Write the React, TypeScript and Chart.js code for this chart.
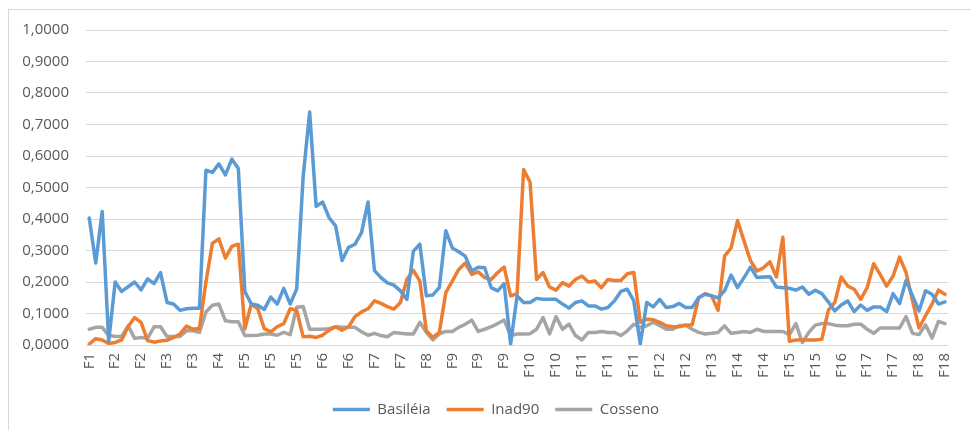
import React, { useEffect, useRef } from "react";
import { Chart, registerables } from "chart.js";

Chart.register(...registerables);

const firms = ["F1","F2","F3","F4","F5","F6","F7","F8","F9","F10","F11","F12","F13","F14","F15","F16","F17","F18"];
const firmCounts = [4,8,6,6,11,8,8,4,12,8,12,8,4,8,8,4,8,6];
const labelEvery = 4;
const yTicks = [0,0.1,0.2,0.3,0.4,0.5,0.6,0.7,0.8,0.9,1.0];

const basileia = [
  0.403,0.26,0.424,0.012,0.2,0.17,0.185,0.2,0.175,0.21,
  0.195,0.23,0.135,0.13,0.11,0.115,0.117,0.117,0.555,0.548,
  0.575,0.54,0.59,0.56,0.17,0.13,0.126,0.113,0.152,0.13,
  0.18,0.13,0.178,0.535,0.74,0.44,0.454,0.404,0.378,0.268,
  0.31,0.32,0.357,0.454,0.236,0.214,0.197,0.19,0.172,0.145,
  0.298,0.32,0.156,0.159,0.182,0.363,0.308,0.296,0.282,0.235,
  0.247,0.245,0.182,0.172,0.195,0.003,0.156,0.135,0.135,0.148,
  0.145,0.145,0.145,0.13,0.117,0.135,0.14,0.124,0.124,0.114,
  0.119,0.14,0.17,0.177,0.14,0.003,0.135,0.121,0.145,0.119,
  0.122,0.132,0.119,0.119,0.15,0.161,0.156,0.15,0.172,0.222,
  0.182,0.214,0.247,0.214,0.216,0.217,0.184,0.182,0.18,0.174,
  0.184,0.161,0.174,0.163,0.137,0.108,0.127,0.14,0.106,0.127,
  0.11,0.121,0.121,0.106,0.163,0.132,0.205,0.156,0.108,0.172,
  0.161,0.13,0.137
];

const inad90 = [
  0.003,0.02,0.016,0.005,0.008,0.016,0.058,0.087,0.072,0.014,
  0.009,0.013,0.015,0.024,0.035,0.06,0.05,0.053,0.2,0.323,
  0.337,0.276,0.313,0.32,0.051,0.13,0.115,0.052,0.042,0.058,
  0.068,0.115,0.11,0.026,0.028,0.024,0.031,0.047,0.058,0.047,
  0.058,0.09,0.105,0.115,0.14,0.132,0.122,0.114,0.135,0.208,
  0.237,0.203,0.045,0.024,0.04,0.166,0.203,0.24,0.26,0.224,
  0.232,0.214,0.208,0.23,0.247,0.156,0.163,0.557,0.517,0.208,
  0.23,0.184,0.174,0.198,0.187,0.208,0.219,0.2,0.203,0.182,
  0.208,0.205,0.205,0.226,0.23,0.072,0.082,0.08,0.072,0.061,
  0.058,0.058,0.063,0.064,0.15,0.163,0.156,0.11,0.282,0.308,
  0.395,0.33,0.268,0.235,0.245,0.264,0.216,0.342,0.012,0.016,
  0.016,0.016,0.016,0.018,0.11,0.135,0.216,0.187,0.177,0.145,
  0.182,0.258,0.224,0.187,0.219,0.279,0.23,0.14,0.054,0.093,
  0.13,0.174,0.161
];

const cosseno = [
  0.05,0.056,0.056,0.03,0.027,0.027,0.061,0.021,0.024,0.021,
  0.058,0.058,0.027,0.027,0.027,0.045,0.045,0.04,0.105,0.126,
  0.13,0.077,0.074,0.074,0.03,0.03,0.031,0.035,0.035,0.031,
  0.04,0.033,0.12,0.122,0.05,0.05,0.05,0.052,0.058,0.056,
  0.056,0.056,0.042,0.031,0.037,0.03,0.026,0.04,0.037,0.035,
  0.035,0.072,0.04,0.016,0.035,0.043,0.043,0.056,0.066,0.079,
  0.043,0.05,0.058,0.068,0.079,0.03,0.035,0.035,0.036,0.05,
  0.087,0.035,0.09,0.05,0.066,0.03,0.016,0.04,0.04,0.043,
  0.04,0.04,0.03,0.045,0.066,0.056,0.061,0.072,0.061,0.05,
  0.05,0.061,0.063,0.05,0.04,0.035,0.037,0.04,0.061,0.037,
  0.04,0.043,0.04,0.05,0.043,0.043,0.043,0.043,0.033,0.068,
  0.008,0.04,0.063,0.068,0.068,0.063,0.061,0.061,0.066,0.066,
  0.05,0.037,0.054,0.054,0.054,0.054,0.09,0.037,0.033,0.064,
  0.022,0.075,0.068
];

const categories: string[] = [];
firms.forEach((f, i) => {
  for (let k = 0; k < firmCounts[i]; k++) categories.push(f);
});

const FONT = "'Open Sans', 'Noto Sans', sans-serif";
const TEXT = "#595959";

const legendShift = {
  id: "legendShift",
  afterLayout(chart: any) {
    const lg = chart.legend;
    if (lg) {
      lg.left += 10;
      lg.right += 10;
      lg.top += 1;
      lg.bottom += 1;
    }
  },
};

export default function App() {
  const ref = useRef<HTMLCanvasElement | null>(null);

  useEffect(() => {
    if (!ref.current) return;
    const chart = new Chart(ref.current, {
      type: "line",
      data: {
        labels: categories,
        datasets: [
          { label: "Basiléia", data: basileia, borderColor: "#5B9BD5", backgroundColor: "#5B9BD5" },
          { label: "Inad90", data: inad90, borderColor: "#ED7D31", backgroundColor: "#ED7D31" },
          { label: "Cosseno", data: cosseno, borderColor: "#A5A5A5", backgroundColor: "#A5A5A5" },
        ].map((d) => ({
          ...d,
          borderWidth: 3.5,
          pointRadius: 0,
          pointHoverRadius: 0,
          tension: 0,
          fill: false,
          borderJoinStyle: "round" as const,
          borderCapStyle: "round" as const,
        })),
      },
      plugins: [legendShift],
      options: {
        animation: false,
        responsive: false,
        maintainAspectRatio: false,
        devicePixelRatio: 1,
        layout: { padding: { left: 10, right: 9, top: 30, bottom: 4 } },
        plugins: {
          tooltip: { enabled: false },
          legend: {
            position: "bottom",
            labels: {
              usePointStyle: true,
              pointStyle: "line",
              pointStyleWidth: 37,
              boxHeight: 14,
              padding: 16,
              color: TEXT,
              font: { family: FONT, size: 15 },
            },
          },
        },
        scales: {
          x: {
            offset: true,
            grid: { display: false, drawTicks: false },
            border: { display: false },
            ticks: {
              autoSkip: false,
              maxRotation: 90,
              minRotation: 90,
              padding: 8,
              color: TEXT,
              font: { family: FONT, size: 15 },
              callback: (_v: any, i: number) => (i % labelEvery === 0 ? categories[i] : ""),
            },
            afterFit: (s: any) => { s.height = 40; },
          },
          y: {
            min: yTicks[0],
            max: yTicks[yTicks.length - 1],
            afterBuildTicks: (s: any) => { s.ticks = yTicks.map((v) => ({ value: v })); },
            grid: { color: "#d9d9d9", lineWidth: 1, drawTicks: false },
            border: { display: false },
            ticks: {
              padding: 17,
              color: TEXT,
              font: { family: FONT, size: 15 },
              callback: (v: any) => Number(v).toFixed(4).replace(".", ","),
            },
            afterFit: (s: any) => { s.width = 76; },
          },
        },
      },
    });
    return () => chart.destroy();
  }, []);

  return (
    <div style={{ position: "fixed", left: 0, top: 0, width: 971, height: 430, background: "#fff", overflow: "hidden" }}>
      <div style={{ position: "absolute", left: 8, top: 9, width: 1000, height: 500, borderLeft: "1px solid #d9d9d9", borderTop: "1px solid #d9d9d9" }} />
      <canvas ref={ref} width={971} height={430} style={{ position: "absolute", left: 0, top: 0, width: 971, height: 430 }} />
    </div>
  );
}
